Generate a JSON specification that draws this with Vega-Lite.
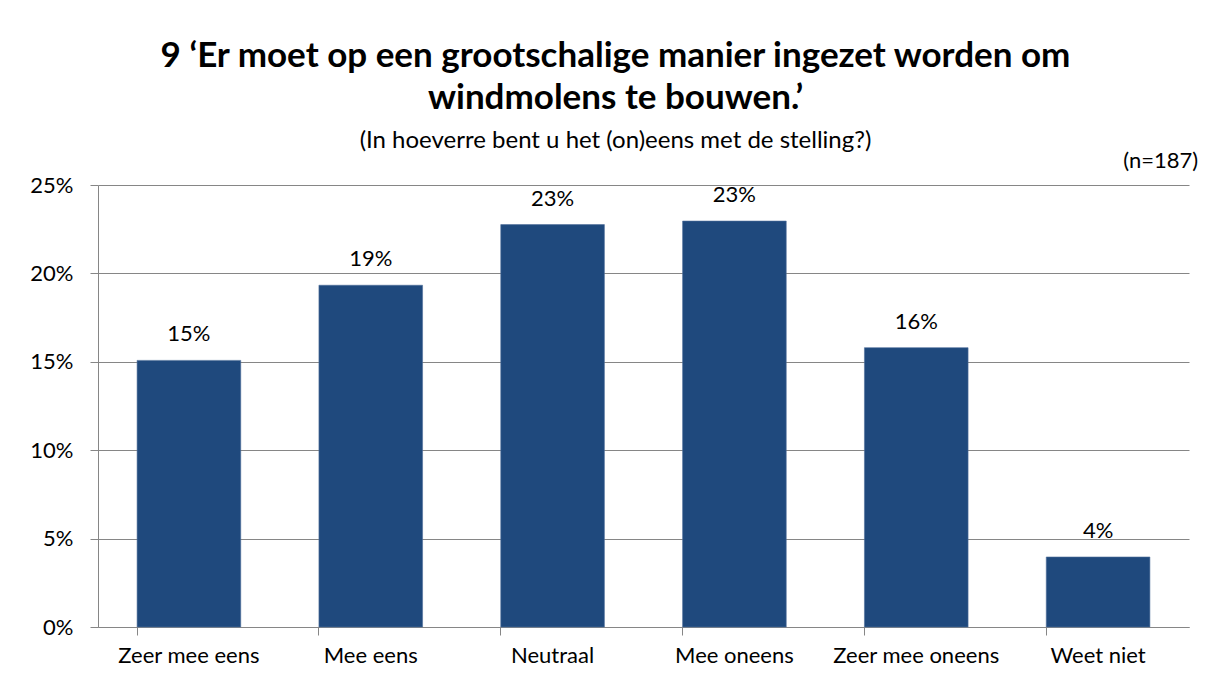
{
  "$schema": "https://vega.github.io/schema/vega-lite/v6.json",
  "width": 1091,
  "height": 442,
  "autosize": {"type": "none"},
  "padding": {"left": 98, "top": 185, "right": 26, "bottom": 57},
  "background": "white",
  "title": {
    "text": ["9 ‘Er moet op een grootschalige manier ingezet worden om", "windmolens te bouwen.’"],
    "subtitle": "(In hoeverre bent u het (on)eens met de stelling?)",
    "anchor": "middle",
    "dx": -28,
    "offset": -3,
    "font": "Lato",
    "fontSize": 35,
    "fontWeight": "bold",
    "lineHeight": 42,
    "color": "black",
    "subtitleFont": "Lato",
    "subtitleFontSize": 24,
    "subtitleFontWeight": "normal",
    "subtitleColor": "black",
    "subtitlePadding": 13
  },
  "data": {
    "values": [
      {"categorie": "Zeer mee eens", "pct": 15.08, "label": "15%"},
      {"categorie": "Mee eens", "pct": 19.33, "label": "19%"},
      {"categorie": "Neutraal", "pct": 22.76, "label": "23%"},
      {"categorie": "Mee oneens", "pct": 22.96, "label": "23%"},
      {"categorie": "Zeer mee oneens", "pct": 15.8, "label": "16%"},
      {"categorie": "Weet niet", "pct": 3.96, "label": "4%"}
    ]
  },
  "encoding": {
    "x": {
      "field": "categorie",
      "type": "nominal",
      "sort": null,
      "scale": {"paddingInner": 0.43, "paddingOuter": 0.215},
      "axis": {
        "title": null,
        "labelAngle": 0,
        "labelFont": "Lato",
        "labelFontSize": 22,
        "labelColor": "black",
        "labelPadding": 10,
        "domainColor": "#868686",
        "tickColor": "#868686",
        "tickSize": 8,
        "bandPosition": 0,
        "grid": false
      }
    },
    "y": {
      "field": "pct",
      "type": "quantitative",
      "scale": {"domain": [0, 25], "nice": false},
      "axis": {
        "title": null,
        "values": [0, 5, 10, 15, 20, 25],
        "labelExpr": "datum.value + '%'",
        "labelFont": "Lato",
        "labelFontSize": 22,
        "labelColor": "black",
        "labelPadding": 17,
        "domainColor": "#868686",
        "tickColor": "#868686",
        "tickSize": 8,
        "gridColor": "#868686",
        "gridWidth": 1
      }
    }
  },
  "layer": [
    {"mark": {"type": "bar", "color": "#1F497D", "stroke": "#4F6F9A", "strokeWidth": 0.6}},
    {
      "mark": {"type": "text", "font": "Lato", "fontSize": 22, "fontWeight": "normal", "color": "black", "baseline": "alphabetic", "dy": -19},
      "encoding": {"text": {"field": "label"}}
    },
    {
      "data": {"values": [{"note": "(n=187)", "categorie": "Weet niet", "pct": 25}]},
      "mark": {"type": "text", "font": "Lato", "fontSize": 22, "fontWeight": "normal", "color": "black", "align": "right", "baseline": "alphabetic", "dx": 100, "dy": -17},
      "encoding": {
        "text": {"field": "note"}
      }
    }
  ],
  "config": {"view": {"stroke": null}}
}
